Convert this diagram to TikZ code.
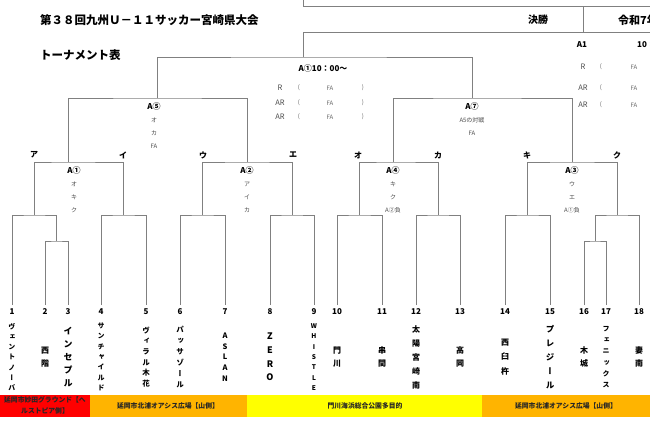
\documentclass[tikz,border=0pt]{standalone}
\usepackage{fontspec}
\setmainfont{Noto Sans CJK JP}
\newfontfamily\tate[RawFeature=+vert]{Noto Sans CJK JP}
\usetikzlibrary{positioning}

\definecolor{venueorange}{RGB}{255,180,0}
\definecolor{venuered}{RGB}{255,0,0}
\definecolor{venueyellow}{RGB}{255,255,0}

\newcommand\mhead[1]{{\color{black}\bfseries\fontsize{8}{13}\selectfont #1}}

\tikzset{
    bracket/.style={draw=black!50, line width=0.7pt},
    matchlbl/.style={align=center, inner sep=0pt, text=black!70,
        font=\fontsize{6}{13}\selectfont},
    slotlbl/.style={inner sep=0pt, font=\bfseries\fontsize{8}{8}\selectfont},
    teamnum/.style={anchor=north, inner xsep=0pt, inner ysep=4pt, outer sep=0pt,
        font=\bfseries\fontsize{8}{8}\selectfont},
    teamname/.style={align=center, inner sep=0pt},
    venue/.style={inner sep=0pt, align=center, text=black!85,
        font=\bfseries\fontsize{6.8}{10.5}\selectfont},
    kick/.style={inner sep=0pt, font=\bfseries\fontsize{8}{8}\selectfont},
    reflbl/.style={inner sep=0pt, text=black!70, font=\fontsize{7.5}{7.5}\selectfont},
    refsmall/.style={inner sep=0pt, text=black!60, font=\fontsize{6}{6}\selectfont},
}

\begin{document}
\begin{tikzpicture}[x=1pt, y=-1pt]
    \clip (0,0) rectangle (650,426);
    \fill[white] (0,0) rectangle (650,426);

    \node[anchor=west, inner sep=0pt, font=\bfseries\fontsize{11.5}{12}\selectfont]
        (title) at (40,20) {第３８回九州Ｕ－１１サッカー宮崎県大会};
    \node[anchor=west, inner sep=0pt, font=\bfseries\fontsize{11.5}{12}\selectfont]
        (sub) at (40,55) {トーナメント表};

    \draw[bracket] (303,0) -- (303,6) -- (650,6);
    \draw[bracket] (303,32) -- (650,32);
    \draw[bracket] (583,6) -- (583,32);
    \node[inner sep=0pt, font=\bfseries\fontsize{10}{10}\selectfont] (fin) at (538,20) {決勝};
    \node[anchor=west, inner sep=0pt, font=\bfseries\fontsize{11}{11}\selectfont]
        (date) at (618,20) {令和7年};

    \foreach \n/\x in {1/12,2/45,3/68,4/101,5/146,6/180,7/225,8/270,9/314,
                       10/337,11/382,12/416,13/460,14/505,15/550,16/584,17/606,18/639}
        \node[teamnum] (t\n) at (\x,305) {\n};

    \foreach \n/\sz/\sp/\name in {
        1/7/10.3/{ヴ\\ェ\\ン\\ト\\ノ\\ー\\バ},
        2/8/13/{西\\階},
        3/9/13/{イ\\ン\\セ\\プ\\ル},
        4/7/10.3/{サ\\ン\\チ\\ャ\\イ\\ル\\ド},
        5/7.5/10.6/{ヴ\\ィ\\ラ\\ル\\木\\花},
        6/7.5/11/{パ\\ッ\\サ\\ゾ\\ー\\ル},
        7/7.5/10.8/{A\\S\\L\\A\\N},
        8/9/13.7/{Z\\E\\R\\O},
        9/6.5/10.3/{W\\H\\I\\S\\T\\L\\E},
        10/8/13/{門\\川},
        11/8/13/{串\\間},
        12/8/14/{太\\陽\\宮\\崎\\南},
        13/8/13/{高\\岡},
        14/8/14.5/{西\\臼\\杵},
        15/8.5/14/{プ\\レ\\ジ\\ー\\ル},
        16/8/13/{木\\城},
        17/7/11.2/{フ\\ェ\\ニ\\ッ\\ク\\ス},
        18/8/13/{妻\\南}}
        \node[teamname, font=\tate\bfseries\fontsize{\sz}{\sp}\selectfont]
            (n\n) at (t\n |- 0,357) {\name};

    \coordinate (s1b) at (56.5,241);
    \coordinate (s8b) at (595,241);
    \coordinate (s1) at (34.5,215);
    \coordinate (s2) at (123.5,215);
    \coordinate (s3) at (202.5,215);
    \coordinate (s4) at (292,215);
    \coordinate (s5) at (359.5,215);
    \coordinate (s6) at (438,215);
    \coordinate (s7) at (527.5,215);
    \coordinate (s8) at (617,215);
    \coordinate (A1) at (68,162);
    \coordinate (A2) at (247,162);
    \coordinate (A4) at (393,162);
    \coordinate (A3) at (572,162);
    \coordinate (A5) at (157,98);
    \coordinate (A7) at (472,98);
    \coordinate (F) at (303,57);
    \coordinate (hdr) at (303,32);

    \draw[bracket] (t2.north) |- (s1b) -| (t3.north);
    \draw[bracket] (t16.north) |- (s8b) -| (t17.north);
    \draw[bracket] (t1.north) |- (s1) -| (s1b);
    \draw[bracket] (t4.north) |- (s2) -| (t5.north);
    \draw[bracket] (t6.north) |- (s3) -| (t7.north);
    \draw[bracket] (t8.north) |- (s4) -| (t9.north);
    \draw[bracket] (t10.north) |- (s5) -| (t11.north);
    \draw[bracket] (t12.north) |- (s6) -| (t13.north);
    \draw[bracket] (t14.north) |- (s7) -| (t15.north);
    \draw[bracket] (s8b) |- (s8) -| (t18.north);
    \draw[bracket] (s1) |- (A1) -| (s2);
    \draw[bracket] (s3) |- (A2) -| (s4);
    \draw[bracket] (s5) |- (A4) -| (s6);
    \draw[bracket] (s7) |- (A3) -| (s8);
    \draw[bracket] (A1) |- (A5) -| (A2);
    \draw[bracket] (A4) |- (A7) -| (A3);
    \draw[bracket] (A5) |- (F) -| (A7);
    \draw[bracket] (F) -- (hdr);

    \foreach \k/\x/\lab in {1/34/ア,2/123/イ,3/203/ウ,4/293/エ,
                            5/358/オ,6/438/カ,7/527/キ,8/617/ク}
        \node[slotlbl] (slot\k) at (\x,155) {\lab};

    \node[matchlbl, below=4pt of A1, xshift=6pt] (iA1) {\mhead{A①}\\オ\\キ\\ク};
    \node[matchlbl, below=4pt of A2] (iA2) {\mhead{A②}\\ア\\イ\\カ};
    \node[matchlbl, below=4pt of A4] (iA4) {\mhead{A④}\\キ\\ク\\A②負};
    \node[matchlbl, below=4pt of A3] (iA3) {\mhead{A③}\\ウ\\エ\\A①負};
    \node[matchlbl, below=4pt of A5, xshift=-3pt] (iA5) {\mhead{A⑤}\\オ\\カ\\FA};
    \node[matchlbl, below=4pt of A7] (iA7) {\mhead{A⑦}\\A5の対戦\\FA};

    \node[kick] (kick1) at (323,68) {A①10：00〜};
    \foreach \k/\lab/\y in {1/R/88,2/AR/103,3/AR/117} {
        \node[reflbl] (cr\k) at (280,\y) {\lab};
        \node[refsmall] (cp\k) at (299,\y) {(};
        \node[refsmall] (cf\k) at (330,\y) {FA};
        \node[refsmall] (cq\k) at (363,\y) {)};
    }

    \node[kick] (kick2) at (582,45) {A1};
    \node[kick, anchor=west] (time2) at (637,45) {10：00〜};
    \foreach \k/\lab/\y in {1/R/67,2/AR/88,3/AR/105} {
        \node[reflbl] (rr\k) at (583,\y) {\lab};
        \node[refsmall] (rp\k) at (601,\y) {(};
        \node[refsmall] (rf\k) at (634,\y) {FA};
    }

    \fill[venuered] (0,395) rectangle (90,417);
    \fill[venueorange] (90,395) rectangle (247,417);
    \fill[venueyellow] (247,395) rectangle (482,417);
    \fill[venueorange] (482,395) rectangle (650,417);
    \node[venue] (v1) at (45,405.5) {延岡市妙田グラウンド【へ\\ルストピア側】};
    \node[venue] (v2) at (168,406) {延岡市北浦オアシス広場【山側】};
    \node[venue] (v3) at (365,406) {門川海浜総合公園多目的};
    \node[venue] (v4) at (566,406) {延岡市北浦オアシス広場【山側】};
\end{tikzpicture}
\end{document}
